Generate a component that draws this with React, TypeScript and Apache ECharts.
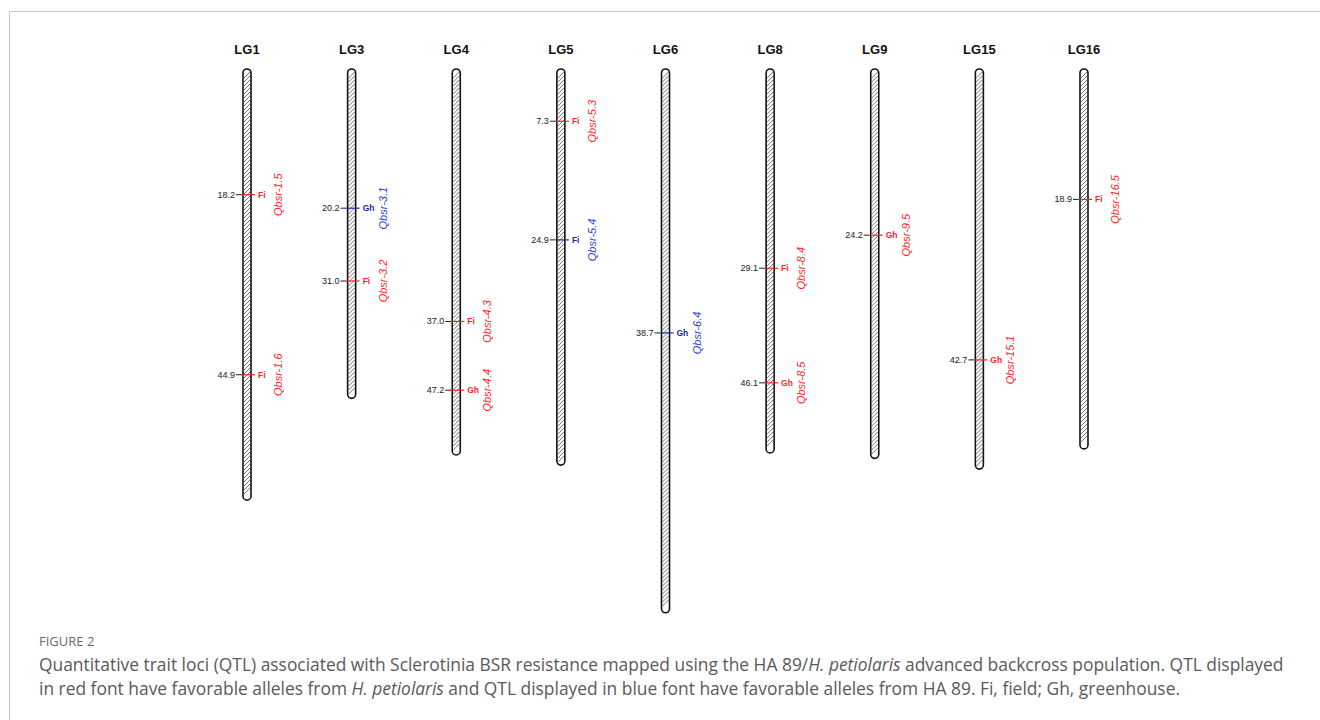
import React, { useEffect, useRef } from "react";
import * as echarts from "echarts";

// Linkage groups and their lengths (cM)
const chromosomes = ["LG1", "LG3", "LG4", "LG5", "LG6", "LG8", "LG9", "LG15", "LG16"];
const chromLengths = [63.5, 48.4, 56.8, 58.3, 80.2, 56.5, 57.3, 58.9, 55.9];

// QTL positions
const qtlChrom = ["LG1", "LG1", "LG3", "LG3", "LG4", "LG4", "LG5", "LG5", "LG6", "LG8", "LG8", "LG9", "LG15", "LG16"];
const qtlPos = [18.2, 44.9, 20.2, 31.0, 37.0, 47.2, 7.3, 24.9, 38.7, 29.1, 46.1, 24.2, 42.7, 18.9];
const qtlEnv = ["Fi", "Fi", "Gh", "Fi", "Fi", "Gh", "Fi", "Fi", "Gh", "Fi", "Gh", "Gh", "Gh", "Fi"];
const qtlName = ["Qbsr-1.5", "Qbsr-1.6", "Qbsr-3.1", "Qbsr-3.2", "Qbsr-4.3", "Qbsr-4.4", "Qbsr-5.3", "Qbsr-5.4", "Qbsr-6.4", "Qbsr-8.4", "Qbsr-8.5", "Qbsr-9.5", "Qbsr-15.1", "Qbsr-16.5"];
// source of favorable allele: "P" = H. petiolaris (red), "HA" = HA 89 (blue)
const qtlSource = ["P", "P", "HA", "P", "P", "P", "P", "HA", "HA", "P", "P", "P", "P", "P"];

const captionTitle = "FIGURE 2";

const RED = "#ff1f1f";
const NAVY = "#1f2a9c";
const BLUE = "#1f45d6";
const CAP = 17.4;

export default function App() {
  const ref = useRef<HTMLDivElement>(null);

  useEffect(() => {
    if (!ref.current) return;
    const chart = echarts.init(ref.current, null, { renderer: "svg" });

    const chromData = chromosomes.map((c, i) => [i, chromLengths[i]]);
    const qtlData = qtlChrom.map((c, i) => [chromosomes.indexOf(c), qtlPos[i]]);

    const capStyle = { fontSize: CAP, fontFamily: "Open Sans, sans-serif", fill: "#5a5a5a", color: "#5a5a5a" };

    const option: any = {
      animation: false,
      backgroundColor: "#ffffff",
      grid: { left: 194.7, right: 183.7, top: 72, bottom: 74.9 },
      xAxis: {
        type: "category",
        position: "top",
        data: chromosomes,
        axisLine: { show: false },
        axisTick: { show: false },
        splitLine: { show: false },
        axisLabel: {
          margin: 16,
          fontSize: 13,
          fontWeight: "bold",
          color: "#111",
          fontFamily: "Liberation Sans, Arial, sans-serif",
        },
      },
      yAxis: {
        type: "value",
        inverse: true,
        min: 0,
        max: 85,
        show: false,
      },
      series: [
        {
          type: "custom",
          data: chromData,
          clip: false,
          renderItem: (params: any, api: any) => {
            const top = api.coord([api.value(0), 0]);
            const bot = api.coord([api.value(0), api.value(1)]);
            const cx = top[0];
            const w = 8;
            const y0 = top[1] - 3;
            const y1 = bot[1];
            const xl = cx - w / 2 + 1;
            const xr = cx + w / 2 - 1;
            let d = "";
            for (let y = y0 + 9; y <= y1 - 3; y += 4) {
              d += `M${xl} ${y}L${xr} ${y - 6}`;
            }
            return {
              type: "group",
              children: [
                {
                  type: "rect",
                  shape: { x: cx - w / 2, y: y0, width: w, height: y1 - y0, r: w / 2 },
                  style: { fill: "#fff", stroke: "#111", lineWidth: 1.6 },
                },
                {
                  type: "path",
                  shape: { pathData: d },
                  style: { fill: "none", stroke: "#444", lineWidth: 0.75 },
                },
              ],
            };
          },
        },
        {
          type: "custom",
          data: qtlData,
          clip: false,
          z: 5,
          renderItem: (params: any, api: any) => {
            const i = params.dataIndex;
            const p = api.coord([api.value(0), api.value(1)]);
            const cx = p[0];
            const y = p[1];
            const isP = qtlSource[i] === "P";
            const lineColor = isP ? RED : NAVY;
            const nameColor = isP ? RED : BLUE;
            return {
              type: "group",
              children: [
                {
                  type: "line",
                  shape: { x1: cx - 11, y1: y, x2: cx - 5, y2: y },
                  style: { stroke: "#222", lineWidth: 1 },
                },
                {
                  type: "line",
                  shape: { x1: cx - 5, y1: y, x2: cx + 8, y2: y },
                  style: { stroke: lineColor, lineWidth: 1.2 },
                },
                {
                  type: "text",
                  x: cx - 12,
                  y: y,
                  style: {
                    text: qtlPos[i].toFixed(1),
                    textAlign: "right",
                    textVerticalAlign: "middle",
                    fontSize: 9,
                    fontFamily: "Liberation Sans, Arial, sans-serif",
                    fill: "#222",
                  },
                },
                {
                  type: "text",
                  x: cx + 11,
                  y: y,
                  style: {
                    text: qtlEnv[i],
                    textAlign: "left",
                    textVerticalAlign: "middle",
                    fontSize: 8.5,
                    fontWeight: "bold",
                    fontFamily: "Liberation Sans, Arial, sans-serif",
                    fill: lineColor,
                  },
                },
                {
                  type: "text",
                  x: cx + 31,
                  y: y,
                  rotation: Math.PI / 2,
                  style: {
                    text: qtlName[i],
                    textAlign: "center",
                    textVerticalAlign: "middle",
                    fontSize: 11,
                    fontStyle: "italic",
                    fontFamily: "Liberation Sans, Arial, sans-serif",
                    fill: nameColor,
                  },
                },
              ],
            };
          },
        },
      ],
      graphic: [
        {
          type: "line",
          shape: { x1: 9, y1: 11.5, x2: 1320, y2: 11.5 },
          style: { stroke: "#c8c8c8", lineWidth: 1 },
        },
        {
          type: "line",
          shape: { x1: 9.5, y1: 11, x2: 9.5, y2: 720 },
          style: { stroke: "#c8c8c8", lineWidth: 1 },
        },
        {
          type: "text",
          x: 39,
          y: 641,
          style: {
            text: captionTitle,
            fontSize: 13,
            fontFamily: "Open Sans, sans-serif",
            fill: "#6a6a6a",
            textVerticalAlign: "middle",
          },
        },
        {
          type: "text",
          x: 39,
          y: 664,
          style: {
            text:
              "{n|Quantitative trait loci (QTL) associated with Sclerotinia BSR resistance mapped using the HA 89/}{i|H. petiolaris}{n| advanced backcross population. QTL displayed}",
            textVerticalAlign: "middle",
            rich: {
              n: { ...capStyle },
              i: { ...capStyle, fontStyle: "italic" },
            },
          },
        },
        {
          type: "text",
          x: 39,
          y: 688,
          style: {
            text:
              "{n|in red font have favorable alleles from }{i|H. petiolaris}{n| and QTL displayed in blue font have favorable alleles from HA 89. Fi, field; Gh, greenhouse.}",
            textVerticalAlign: "middle",
            rich: {
              n: { ...capStyle },
              i: { ...capStyle, fontStyle: "italic" },
            },
          },
        },
      ],
    };

    chart.setOption(option);
    return () => chart.dispose();
  }, []);

  return (
    <div
      ref={ref}
      style={{ position: "fixed", left: 0, top: 0, width: 1320, height: 720, background: "#fff" }}
    />
  );
}
